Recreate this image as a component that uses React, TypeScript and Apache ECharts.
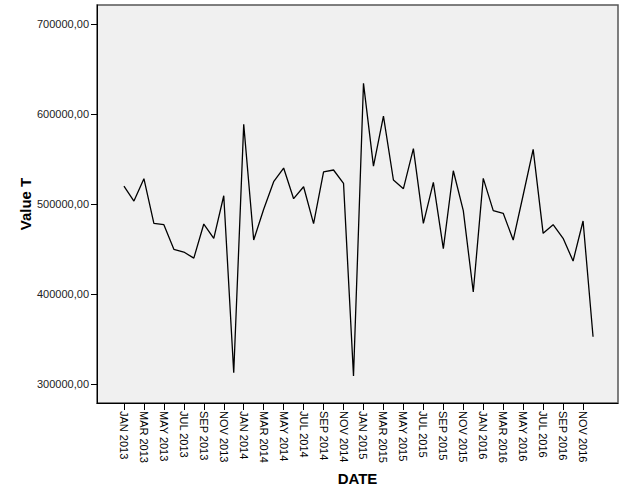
import React, { useEffect, useRef } from "react";
import * as echarts from "echarts";

const MONTHS = ["JAN", "FEB", "MAR", "APR", "MAY", "JUN", "JUL", "AUG", "SEP", "OCT", "NOV", "DEC"];
const YEARS = [2013, 2014, 2015, 2016];
const categories: string[] = [];
YEARS.forEach((y) => MONTHS.forEach((m) => categories.push(m + " " + y)));

const values2013 = [520200, 503500, 528300, 478700, 477200, 449800, 446800, 440000, 477900, 462000, 509400, 312600];
const values2014 = [588800, 460100, 494300, 525000, 540200, 506100, 519400, 478300, 535800, 538000, 523200, 308900];
const values2015 = [634400, 542400, 598000, 526900, 517200, 561700, 478700, 524300, 450500, 537200, 492800, 402300];
const values2016 = [528700, 492800, 489800, 460100, 510200, 561000, 467600, 477200, 462000, 436800, 481300, 352600];
const values = [...values2013, ...values2014, ...values2015, ...values2016];

const yTicks = [300000, 400000, 500000, 600000, 700000];
const xTickIdx = categories.map((_, i) => i).filter((i) => i % 2 === 0);

export default function App() {
  const ref = useRef<HTMLDivElement>(null);
  useEffect(() => {
    const chart = echarts.init(ref.current!, null, { renderer: "svg" });
    chart.setOption({
      animation: false,
      backgroundColor: "#ffffff",
      textStyle: { fontFamily: "Liberation Sans, Arial, sans-serif" },
      grid: {
        left: 97,
        top: 5,
        width: 521,
        height: 398,
        show: true,
        backgroundColor: "#f0f0f0",
        borderColor: "#555555",
        borderWidth: 1.5,
      },
      xAxis: {
        type: "value",
        min: -2.7,
        max: 49.5,
        name: "DATE",
        nameLocation: "middle",
        nameGap: 68,
        nameTextStyle: { fontSize: 15, fontWeight: "bold", color: "#000" },
        axisLine: { show: true, onZero: false, lineStyle: { color: "#000", width: 1 } },
        axisTick: { show: true, length: 7, customValues: xTickIdx, lineStyle: { color: "#000" } },
        axisLabel: {
          customValues: xTickIdx,
          rotate: -90,
          fontSize: 11,
          color: "#000",
          margin: 8,
          formatter: (v: number) => categories[Math.round(v)] ?? "",
        },
        splitLine: { show: false },
      },
      yAxis: {
        type: "value",
        min: 278900,
        max: 721500,
        name: "Value T",
        nameLocation: "middle",
        nameGap: 64,
        nameMoveOverlap: false,
        nameTextStyle: { fontSize: 15, fontWeight: "bold", color: "#000" },
        axisLine: { show: true, onZero: false, lineStyle: { color: "#000", width: 1 } },
        axisTick: { show: true, length: 6, customValues: yTicks, lineStyle: { color: "#000" } },
        axisLabel: {
          customValues: yTicks,
          fontSize: 11,
          color: "#222",
          margin: 8,
          formatter: (v: number) => v.toFixed(2).replace(".", ","),
        },
        splitLine: { show: false },
      },
      series: [
        {
          type: "line",
          data: values.map((v, i) => [i, v]),
          showSymbol: false,
          lineStyle: { color: "#000", width: 1.3 },
        },
      ],
    });
    return () => chart.dispose();
  }, []);
  return <div ref={ref} style={{ position: "fixed", left: 0, top: 0, width: 626, height: 501 }} />;
}
